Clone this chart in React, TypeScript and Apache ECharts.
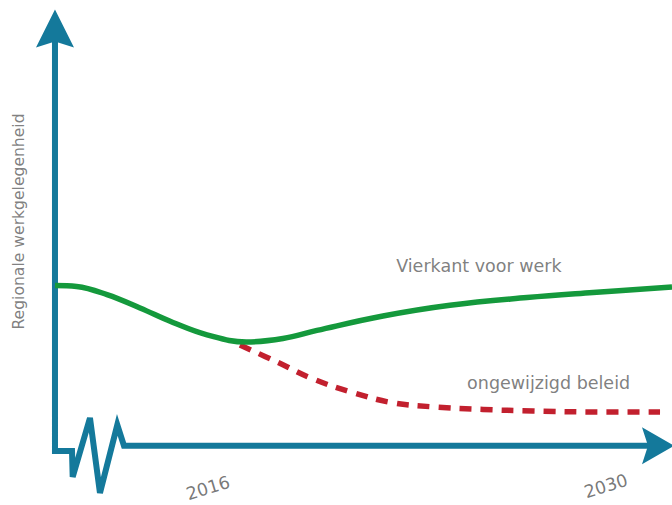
import React, { useEffect, useRef } from "react";
import * as echarts from "echarts";

// Illustrative index scale: x = time (0 = vertical axis, 100 = right edge), y = employment level index
const vierkantVoorWerk: [number, number][] = [
  [0, 37.67], [3.5, 37.45], [8.43, 35.6], [13.78, 32.58], [19.12, 29.3],
  [24.64, 26.5], [31.0, 24.89], [36.95, 25.68], [42.46, 27.5],
  [53.16, 30.77], [64.02, 33.2], [76.5, 34.95], [87.2, 36.09], [100, 37.33],
];

const ongewijzigdBeleid: [number, number][] = [
  [29.98, 24.21], [35.98, 20.36], [41.82, 16.52],
  [48.14, 13.51], [54.62, 11.15], [61.26, 10.2], [69.37, 9.62],
  [77.47, 9.28], [88.33, 9.05], [98.06, 9.05],
];

// axis outline: vertical axis, broken-axis zigzag, horizontal axis
const axisPath: [number, number][] = [
  [0, 95.81], [0, 0.23], [2.76, 0.23], [2.87, -5.66], [5.67, 7.69],
  [7.29, -9.28], [10.1, 6.11], [11.18, 1.4], [97.73, 1.4],
];

const seriesNames = ["Vierkant voor werk", "ongewijzigd beleid"];
const seriesNamePoints: [number, number][] = [[68.7, 42.1], [80.0, 15.6]];

const yearTicks = ["2016", "2030"];
const yearTickPoints: [number, number][] = [[24.8, -8.14], [89.3, -7.69]];

const yAxisTitle = "Regionale werkgelegenheid";
const yAxisTitlePoint: [number, number] = [-5.83, 52.15];

const AXIS_COLOR = "#14799b";
const GREEN = "#14993c";
const RED = "#c2202e";
const TEXT = "#5e5e5e";
const FONT = "DejaVu Sans";

const UP_ARROW = "path://M19,0 L38,38 L19,32 L0,38 Z";
const RIGHT_ARROW = "path://M0,0 L32,18.5 L0,37 L6,18.5 Z";

export default function App() {
  const ref = useRef<HTMLDivElement>(null);

  useEffect(() => {
    if (!ref.current) return;
    const chart = echarts.init(ref.current, undefined, { renderer: "svg" });

    const axisData = axisPath.map((p, i) => {
      if (i === 0) return { value: p, symbol: UP_ARROW, symbolSize: [38, 38] };
      if (i === axisPath.length - 1)
        return { value: p, symbol: RIGHT_ARROW, symbolSize: [32, 37] };
      return { value: p, symbol: "none" };
    });

    const textSeries = (data: any[], fontSize: number, color: string) => ({
      type: "scatter",
      silent: true,
      symbolSize: 1,
      itemStyle: { color: "rgba(0,0,0,0)" },
      data,
      label: {
        show: true,
        position: "inside",
        formatter: "{b}",
        color,
        fontSize,
        fontFamily: FONT,
      },
      z: 5,
    });

    chart.setOption({
      animation: false,
      grid: { left: 0, right: 0, top: 10, bottom: 0 },
      xAxis: { type: "value", min: -8.91, max: 100, show: false },
      yAxis: { type: "value", min: -12, max: 100, show: false },
      series: [
        {
          type: "line",
          silent: true,
          clip: false,
          data: axisData,
          symbol: "none",
          itemStyle: { color: AXIS_COLOR, borderWidth: 0 },
          lineStyle: { color: AXIS_COLOR, width: 6, join: "miter", miterLimit: 10 },
          z: 2,
        },
        {
          type: "line",
          silent: true,
          clip: false,
          data: ongewijzigdBeleid,
          symbol: "none",
          smooth: 0.4,
          lineStyle: { color: RED, width: 5.5, type: [12, 9], cap: "butt" },
          z: 3,
        },
        {
          type: "line",
          silent: true,
          clip: false,
          data: vierkantVoorWerk,
          symbol: "none",
          smooth: 0.4,
          lineStyle: { color: GREEN, width: 5.5 },
          z: 4,
        },
        textSeries(
          seriesNames.map((n, i) => ({ name: n, value: seriesNamePoints[i] })),
          17.5,
          TEXT
        ),
        textSeries(
          yearTicks.map((n, i) => ({ name: n, value: yearTickPoints[i], label: { rotate: 17 } })),
          17.5,
          "#555555"
        ),
        textSeries([{ name: yAxisTitle, value: yAxisTitlePoint, label: { rotate: 90 } }], 15.6, TEXT),
      ],
    });

    return () => chart.dispose();
  }, []);

  return (
    <div
      ref={ref}
      style={{ position: "fixed", left: 0, top: 0, width: 672, height: 505, background: "#fff" }}
    />
  );
}
